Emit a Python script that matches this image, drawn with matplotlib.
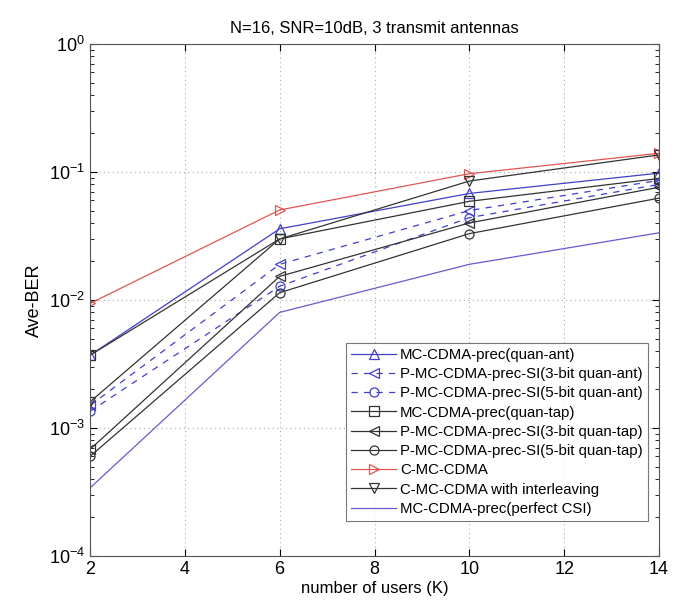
import matplotlib
matplotlib.use('Agg')
import matplotlib.pyplot as plt
from matplotlib.ticker import LogLocator, NullFormatter

plt.rcParams['font.family'] = ['Liberation Sans', 'DejaVu Sans']

# number of users
users = [2, 6, 10, 14]

# Ave-BER
quan_ant = [0.0037, 0.036, 0.068, 0.098]
si3_ant = [0.0015, 0.019, 0.050, 0.086]
si5_ant = [0.00135, 0.0128, 0.044, 0.080]
quan_tap = [0.0037, 0.030, 0.059, 0.089]
si3_tap = [0.00068, 0.0153, 0.040, 0.076]
si5_tap = [0.00060, 0.0114, 0.033, 0.0625]
cmc = [0.0094, 0.0505, 0.097, 0.140]
cmc_il = [0.0016, 0.030, 0.085, 0.136]
perfect = [0.00034, 0.0080, 0.019, 0.0335]

blue = '#4040c8'
black = '#333333'
red = '#e05555'
purple = '#6a5acd'

fig = plt.figure(figsize=(6.89, 6.13), dpi=100)
ax = fig.add_axes([0.1306, 0.093, 0.8259, 0.8352])

mk = dict(markerfacecolor='none', markersize=6.5, linewidth=0.9, markeredgewidth=0.9)
ax.semilogy(users, quan_ant, '-^', color=blue, label='MC-CDMA-prec(quan-ant)', **mk)
ax.semilogy(users, si3_ant, '--<', color=blue, dashes=(5, 5), label='P-MC-CDMA-prec-SI(3-bit quan-ant)', **mk)
ax.semilogy(users, si5_ant, '--o', color=blue, dashes=(5, 5), label='P-MC-CDMA-prec-SI(5-bit quan-ant)', **mk)
ax.semilogy(users, quan_tap, '-s', color=black, label='MC-CDMA-prec(quan-tap)', **mk)
ax.semilogy(users, si3_tap, '-<', color=black, label='P-MC-CDMA-prec-SI(3-bit quan-tap)', **mk)
ax.semilogy(users, si5_tap, '-o', color=black, label='P-MC-CDMA-prec-SI(5-bit quan-tap)', **mk)
ax.semilogy(users, cmc, '->', color=red, label='C-MC-CDMA', **mk)
ax.semilogy(users, cmc_il, '-v', color=black, label='C-MC-CDMA with interleaving', **mk)
ax.semilogy(users, perfect, '-', color=purple, linewidth=0.9, label='MC-CDMA-prec(perfect CSI)')

ax.set_xlim(2, 14)
ax.set_ylim(1e-4, 1)
ax.set_xticks([2, 4, 6, 8, 10, 12, 14])
ax.yaxis.set_major_locator(LogLocator(base=10, numticks=10))
ax.yaxis.set_minor_locator(LogLocator(base=10, subs=range(2, 10), numticks=20))
ax.yaxis.set_minor_formatter(NullFormatter())
ax.tick_params(which='both', direction='in', top=True, right=True, labelsize=13)
ax.tick_params(which='major', length=5)
ax.tick_params(which='minor', length=3)
ax.grid(True, which='major', linestyle=(0, (1, 3)), color='#aaaaaa', linewidth=0.8)
for s in ax.spines.values():
    s.set_color('#555555')

ax.set_xlabel('number of users (K)', fontsize=12, labelpad=2)
ax.set_ylabel('Ave-BER', fontsize=13, labelpad=4)
ax.set_title('N=16, SNR=10dB, 3 transmit antennas', fontsize=12, pad=8)

leg = ax.legend(loc='lower right', bbox_to_anchor=(0.981, 0.068), fontsize=10.8,
                frameon=True, fancybox=False, edgecolor='#555555',
                handlelength=3, labelspacing=0.35, borderpad=0.35,
                handletextpad=0.25, borderaxespad=0)
leg.get_frame().set_linewidth(0.8)

fig.savefig('out.png', dpi=100)
